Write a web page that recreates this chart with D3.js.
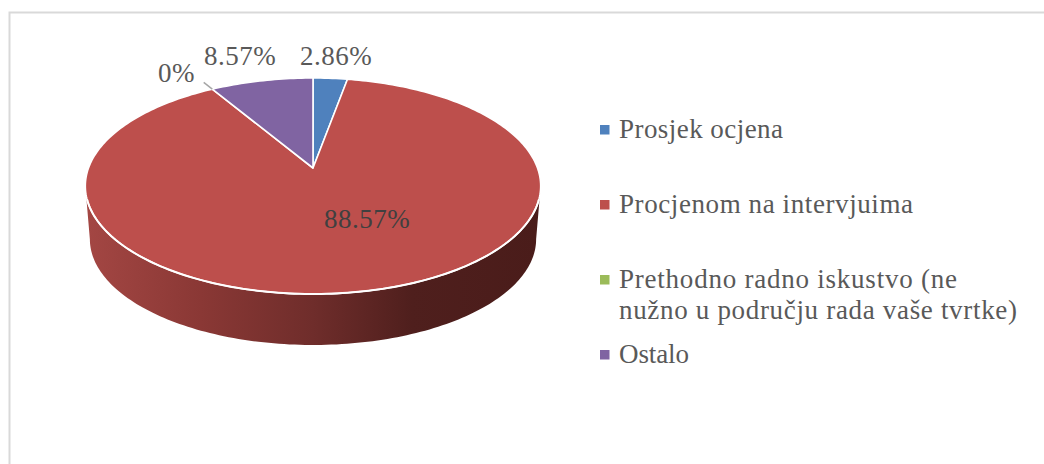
<!DOCTYPE html>
<html><head><meta charset="utf-8">
<script src="https://cdn.jsdelivr.net/npm/d3@7"></script>
<style>html,body{margin:0;padding:0;background:#fff;overflow:hidden}svg{display:block}text{font-family:"Liberation Serif",serif;fill:#595959}</style>
</head><body><svg id="c" width="1044" height="464"></svg>
<script>
const categories = ["Prosjek ocjena","Procjenom na intervjuima","Prethodno radno iskustvo (ne nužno u području rada vaše tvrtke)","Ostalo"];
const legendLines = [["Prosjek ocjena"],["Procjenom na intervjuima"],["Prethodno radno iskustvo (ne","nužno u području rada vaše tvrtke)"],["Ostalo"]];
const values = [2.86,88.57,0,8.57];
const valueLabels = ["2.86%","88.57%","0%","8.57%"];
const colors = ["#4f81bd","#bd4f4c","#9bbb59","#8064a2"];

const svg = d3.select("#c");
const defs = svg.append("defs");
const grad = defs.append("linearGradient").attr("id","wall").attr("gradientUnits","userSpaceOnUse")
  .attr("x1",88).attr("x2",538).attr("y1",0).attr("y2",0);
[[0,"#a34643"],[.25,"#8a3835"],[.5,"#6f2d2b"],[.72,"#4f1f1d"],[1,"#4a1c1a"]].forEach(s=>grad.append("stop").attr("offset",s[0]).attr("stop-color",s[1]));

svg.append("path").attr("d","M9.5,464V12.5H1044").attr("fill","none").attr("stroke","#d9d9d9").attr("stroke-width",2);

// perspective projection of the unit disc
const k=-1/6;
function proj(a,o){o=o||{};const u=Math.sin(a),v=-Math.cos(a),d=1+k*v,s=o.s||1;
  return [313+224.5*s*u/d,(o.y0||168)+105*s*v/d];}
function arcPts(a0,a1,o){const n=Math.max(2,Math.ceil(Math.abs(a1-a0)/0.02)),p=[];
  for(let i=0;i<=n;i++)p.push(proj(a0+(a1-a0)*i/n,o));return p;}
const line=d3.line();

const low={s:.98,y0:221.5};
const aR=Math.acos(k), aL=2*Math.PI-aR;
const frontTop=arcPts(aR,aL,{});
const frontLow=arcPts(aL,aR,low);
svg.append("path").attr("d",line(frontTop.concat(frontLow))+"Z").attr("fill","url(#wall)");

const arcs=d3.pie().sort(null).startAngle(0).endAngle(2*Math.PI)(values);
const apex=[313,168];
svg.selectAll("path.slice").data(arcs).join("path").attr("class","slice")
  .filter(d=>d.value>0)
  .attr("d",d=>line([apex].concat(arcPts(d.startAngle,d.endAngle,{})))+"Z")
  .attr("fill",(d,i)=>colors[d.index]).attr("stroke","#fff").attr("stroke-width",1.6).attr("stroke-linejoin","round");
// bright front rim
svg.append("path").attr("d",line(arcPts(aR+0.12,aL-0.12,{}))).attr("fill","none").attr("stroke","#fff").attr("stroke-width",2);

// leader for the zero slice
const z=arcs[2], zp=proj(z.startAngle,{}), zq=proj(z.startAngle,{s:1.085});
svg.append("path").attr("d",line([zp,zq])).attr("stroke","#a6a6a6").attr("stroke-width",1.5).attr("fill","none");

const labelPos=[[336,65],[367,228],[176.5,82],[240,65]];
svg.selectAll("text.v").data(valueLabels).join("text").attr("class","v")
  .attr("x",(d,i)=>labelPos[i][0]).attr("y",(d,i)=>labelPos[i][1]).attr("text-anchor","middle")
  .attr("font-size",27).attr("letter-spacing",.5).text(d=>d)
  .style("fill",(d,i)=>i==1?"#404040":"#595959");

const rowY=[[138],[213],[288,319],[363]];
const lineW=[[164],[294],[338,398],[70]];
categories.forEach((c,i)=>{
  svg.append("rect").attr("x",600).attr("y",rowY[i][0]-13).attr("width",9.5).attr("height",9.5).attr("fill",colors[i]);
  legendLines[i].forEach((t,j)=>svg.append("text").attr("x",619).attr("y",rowY[i][j]).attr("font-size",27)
    .attr("textLength",lineW[i][j]).attr("lengthAdjust","spacing").text(t));
});
</script></body></html>
